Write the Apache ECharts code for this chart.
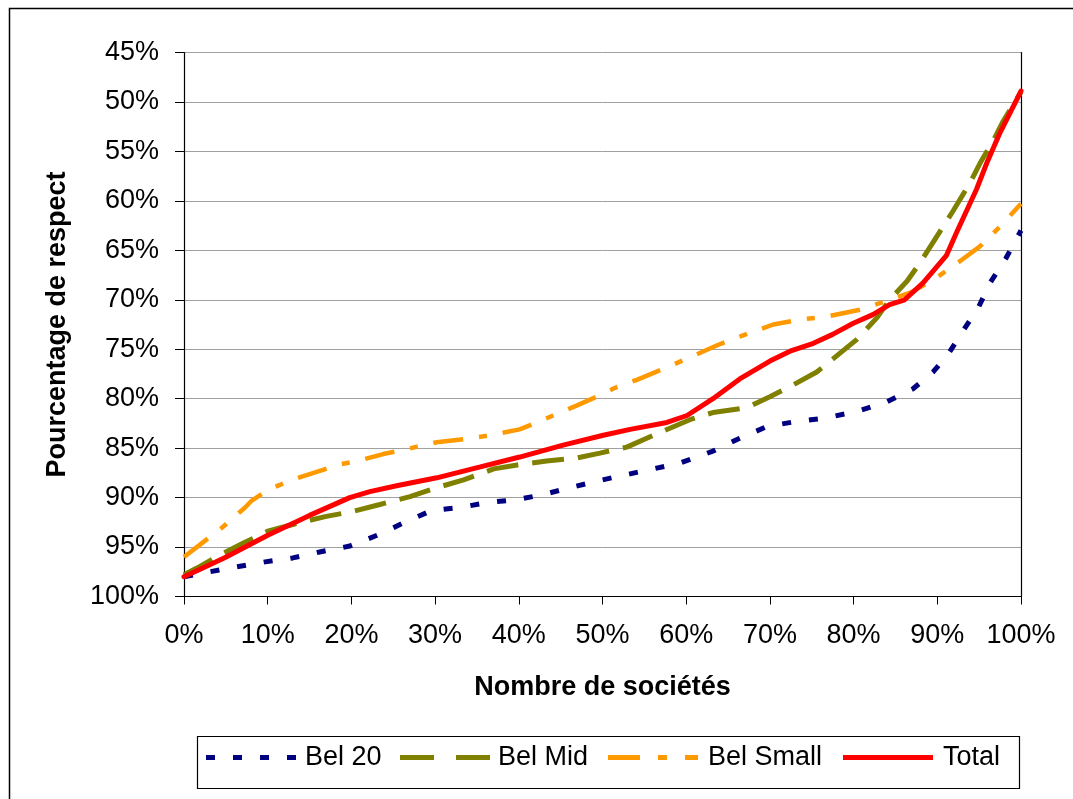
<!DOCTYPE html>
<html>
<head>
<meta charset="utf-8">
<script src="https://cdn.jsdelivr.net/npm/echarts@6/dist/echarts.min.js"></script>
<style>
html,body{margin:0;padding:0;background:#fff;}
#c{width:1073px;height:799px;}
</style>
</head>
<body>
<div id="c"></div>
<script>
// [x (% of companies), y (% respect)]
const bel20 = [[0,98.0],[3.1,97.5],[6.3,97.0],[9.7,96.5],[13,96.1],[16.2,95.5],[19.8,94.9],[23.4,93.7],[26.6,92.4],[29.6,91.3],[33,91.0],[36.2,90.5],[39.8,90.2],[42.9,89.7],[46.1,89.0],[49.5,88.3],[53.3,87.6],[59.3,86.5],[63.2,85.3],[66.4,84.0],[69.7,82.8],[73.2,82.3],[76.3,82.0],[80.4,81.3],[84,80.3],[87.1,79.0],[89.5,77.3],[91.3,75.5],[93.1,73.1],[94.9,70.8],[96.3,68.3],[98.2,65.8],[100,63.0]];
const belMid = [[0,97.8],[1.6,97.1],[4.3,95.8],[7.1,94.6],[10,93.4],[13.5,92.6],[17,91.9],[20.2,91.4],[23.4,90.7],[27,89.9],[30.2,89.0],[33.4,88.2],[37,87.1],[39.8,86.7],[43.3,86.3],[46.9,86.0],[49.7,85.5],[52.9,84.9],[56.9,83.4],[60.5,82.1],[63.2,81.4],[67.3,80.9],[70,79.8],[72.8,78.6],[75.6,77.3],[77.5,76.0],[80.4,74.0],[82.8,71.8],[84.3,70.0],[86.4,68.1],[87.9,66.3],[90.7,62.6],[91.9,61.0],[93.9,58.2],[95.1,56.2],[96.7,53.9],[97.9,51.9],[100,49.0]];
const belSmall = [[0,96.0],[2.3,94.5],[4.6,93.0],[7.3,91.0],[8.1,90.3],[10.3,89.1],[13.3,88.1],[16.6,87.2],[18.3,86.7],[20.7,86.3],[23.8,85.6],[26.6,85.1],[30.2,84.4],[33.4,84.1],[36.6,83.7],[40.1,83.1],[41.3,82.7],[44.1,81.7],[46.9,80.7],[49.3,79.8],[51.5,78.9],[54.1,78.1],[57.2,77.0],[60.8,75.7],[63.7,74.6],[66.8,73.6],[70.4,72.5],[73.6,72.0],[76.8,71.7],[80.8,71.0],[84,70.1],[86.7,69.3],[89.5,68.0],[92.7,66.1],[95.1,64.6],[97.5,62.6],[100,60.3]];
const total = [[0,98.0],[4.8,96.1],[10,93.8],[15,91.8],[19.8,90.0],[22.2,89.4],[25.4,88.8],[30.2,88.0],[35.4,86.9],[40.1,85.9],[45.3,84.7],[50.1,83.7],[53.3,83.1],[57.7,82.4],[60.1,81.7],[63.2,80.0],[66.4,78.0],[70,76.2],[72.4,75.2],[75.2,74.4],[77.5,73.5],[79.9,72.4],[82.3,71.5],[84.3,70.5],[86.1,70.0],[88.3,68.3],[91.1,65.5],[92.3,63.2],[94.7,58.8],[95.9,56.2],[97.5,53.1],[100,48.9]];
const seriesNames = ['Bel 20','Bel Mid','Bel Small','Total'];
const xTitle = 'Nombre de sociétés';
const yTitle = 'Pourcentage de respect';

// legend icons (dash patterns drawn as small paths, 90 x 5 box)
const legendIcons = [
  'path://M0,0h9v5h-9zM27,0h9v5h-9zM54,0h9v5h-9zM81,0h9v5h-9z',
  'path://M0,0h34v5h-34zM56,0h34v5h-34z',
  'path://M0,0h32v5h-32zM50,0h9v5h-9zM77,0h13v5h-13z',
  'path://M0,0h90v5h-90z'
];
const legendLeft = [206, 400, 608, 843];
const legendTextShift = [4, 3, 5, 5];

const FONT = '"Liberation Sans", Arial, sans-serif';
const chart = echarts.init(document.getElementById('c'));
chart.setOption({
  animation: false,
  backgroundColor: '#fff',
  graphic: [{
    type: 'rect', left: 7, top: 6, silent: true,
    shape: { x: 0, y: 0, width: 1100, height: 820 },
    style: { fill: 'none', stroke: '#000', lineWidth: 1.5 }
  }, {
    type: 'rect', left: 195, top: 734, silent: true,
    shape: { x: 0, y: 0, width: 822, height: 52 },
    style: { fill: 'none', stroke: '#000', lineWidth: 1.2 }
  }],
  grid: { left: 184, right: 52, top: 52.5, bottom: 202.5 },
  legend: seriesNames.map((n, i) => ({
    left: legendLeft[i], top: 744,
    padding: 0, itemGap: 0,
    itemWidth: 90, itemHeight: 5,
    symbolKeepAspect: false,
    textStyle: { fontFamily: FONT, fontSize: 27, color: '#000' },
    data: [{ name: n, icon: legendIcons[i],
      textStyle: { fontFamily: FONT, fontSize: 27, color: '#000', padding: [0, 0, 0, legendTextShift[i]] } }]
  })),
  xAxis: {
    type: 'value', min: 0, max: 100, interval: 10,
    name: xTitle, nameLocation: 'middle', nameGap: 78,
    nameTextStyle: { fontFamily: FONT, fontSize: 27, fontWeight: 'bold', color: '#000' },
    axisLine: { show: true, lineStyle: { color: '#000', width: 1.2 } },
    axisTick: { show: true, length: 8, lineStyle: { color: '#000' } },
    axisLabel: { formatter: '{value}%', margin: 26, fontFamily: FONT, fontSize: 27, color: '#000' },
    splitLine: { show: false }
  },
  yAxis: [{
    type: 'value', min: 45, max: 100, interval: 5, inverse: true,
    name: yTitle, nameLocation: 'middle', nameGap: 113, nameRotate: 90,
    nameTextStyle: { fontFamily: FONT, fontSize: 27, fontWeight: 'bold', color: '#000' },
    axisLine: { show: true, lineStyle: { color: '#000', width: 1.2 } },
    axisTick: { show: true, length: 9, lineStyle: { color: '#000' } },
    axisLabel: { formatter: '{value}%', margin: 25, fontFamily: FONT, fontSize: 27, color: '#000' },
    splitLine: { show: true, lineStyle: { color: '#a0a0a0', width: 1 } }
  }, {
    type: 'value', min: 45, max: 100, interval: 5, inverse: true, position: 'right',
    axisLine: { show: true, lineStyle: { color: '#000', width: 1.2 } },
    axisTick: { show: false }, axisLabel: { show: false }, splitLine: { show: false }
  }],
  series: [
    { name: seriesNames[0], type: 'line', data: bel20, symbol: 'none', color: '#000080',
      lineStyle: { color: '#000080', width: 5, type: [9, 18], cap: 'butt' } },
    { name: seriesNames[1], type: 'line', data: belMid, symbol: 'none', color: '#808000',
      lineStyle: { color: '#808000', width: 5, type: [32, 14], cap: 'butt' } },
    { name: seriesNames[2], type: 'line', data: belSmall, symbol: 'none', color: '#FF9900',
      lineStyle: { color: '#FF9900', width: 4.5, type: [30, 16, 8, 16], cap: 'butt' } },
    { name: seriesNames[3], type: 'line', data: total, symbol: 'none', color: '#FF0000',
      lineStyle: { color: '#FF0000', width: 5, cap: 'round' } }
  ]
});
</script>
</body>
</html>
